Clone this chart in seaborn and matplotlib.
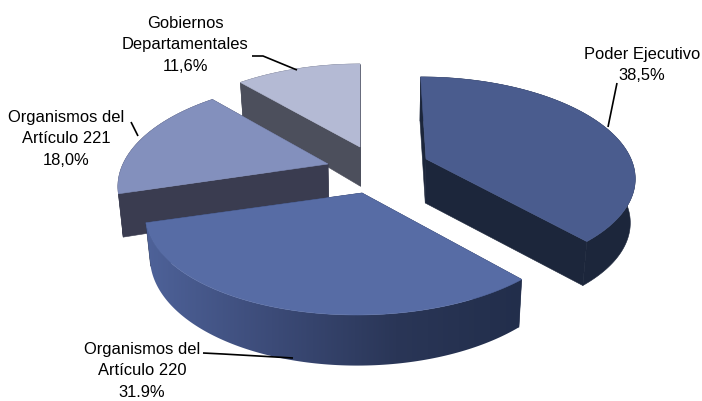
import numpy as np
import matplotlib
matplotlib.use("Agg")
import matplotlib.pyplot as plt
from matplotlib.patches import Polygon
import seaborn as sns

# --- data ---
labels = ["Poder Ejecutivo\n38,5%", "Organismos del\nArtículo 220\n31.9%",
          "Organismos del\nArtículo 221\n18,0%", "Gobiernos\nDepartamentales\n11,6%"]
values = [38.5, 31.9, 18.0, 11.6]

# --- styling / layout ---
top_colors = ["#4A5C8E", "#576CA5", "#8390BD", "#B4BAD4"]
side_colors = ["#1C263B", None, "#3A3C50", "#4C4F5C"]
gradient = ["#4E6299", "#3C4B78", "#2A3657", "#222E4B"]
apex = [(426, 160), (362, 194), (328, 165), (360, 148)]     # exploded slice tips
vanish_x = [389.0, 385.0, 360.0, 360.0]
radius_x = [205.0, 212.0, 205.0, 205.0]
radius_y = [96.0, 98.8, 98.8, 98.8]
persp = [0.17, 0.19, 0.19, 0.19]
depth = [44.0, 41.0, 41.0, 39.0]
depth_pow = [0.0, 1.0, 1.0, 1.0]
label_pos = [(642, 65), (142, 371), (66, 139), (185, 45)]
leaders = [[(617, 84), (608, 128)],
           [(203, 354), (223, 355), (293, 359)],
           [(131, 123), (138, 137)],
           [(252, 57), (263, 57), (297, 71)]]
draw_order = [3, 0, 2, 1]

sns.set_theme(style="white")
plt.rcParams["font.family"] = ["Liberation Sans", "DejaVu Sans"]

fig = plt.figure(figsize=(7.02, 4.02), dpi=100)
ax = fig.add_axes([0, 0, 1, 1])
ax.axis("off")


def project(i, theta, radius=1.0, lower=False):
    """Perspective projection of a point on a tilted, exploded pie slice."""
    ax0, ay0 = apex[i]
    vx, rx = vanish_x[i], radius_x[i]
    u, v = radius * np.sin(theta), radius * np.cos(theta)
    s = 1.0 / (1.0 + persp[i] * v)
    x = vx + (ax0 - vx + rx * u) * s
    y = ay0 - radius_y[i] * v * s
    if lower:
        x = vx + (x - vx) * 0.98
        y = y + depth[i] * s ** depth_pow[i]
    return np.column_stack([x, y])


fractions = np.array(values) / np.sum(values)
edges = np.concatenate([[0.0], np.cumsum(fractions)]) * 2 * np.pi

for order, i in enumerate(draw_order):
    a0, a1 = edges[i], edges[i + 1]
    th = np.linspace(a0, a1, 121)
    top_arc = project(i, th)
    low_arc = project(i, th, lower=True)
    tip_top = project(i, np.array([0.0]), 0.0)
    tip_low = project(i, np.array([0.0]), 0.0, lower=True)

    wall = side_colors[i] if side_colors[i] else gradient[-1]
    z = 1 + order
    for k in (0, -1):
        quad = np.vstack([tip_top, top_arc[k], low_arc[k], tip_low])
        ax.add_patch(Polygon(quad, closed=True, fc=wall, ec=wall, lw=0.4, zorder=z))

    rim = np.vstack([top_arc, low_arc[::-1]])
    if side_colors[i]:
        ax.add_patch(Polygon(rim, closed=True, fc=wall, ec=wall, lw=0.4, zorder=z))
    else:
        pal = np.array(sns.blend_palette(gradient, n_colors=256))[:, :3]
        clip = Polygon(rim, closed=True, fc="none", ec="none", transform=ax.transData)
        ax.add_patch(clip)
        im = ax.imshow(pal[np.newaxis, :, :], aspect="auto", zorder=z, interpolation="bilinear",
                       extent=[rim[:, 0].min(), rim[:, 0].max(), rim[:, 1].max(), rim[:, 1].min()])
        im.set_clip_path(clip)

    ax.add_patch(Polygon(np.vstack([tip_top, top_arc]), closed=True, fc=top_colors[i],
                         ec=top_colors[i], lw=0.4, zorder=z + 0.5))

for (lx, ly), txt, pts in zip(label_pos, labels, leaders):
    ax.text(lx, ly, txt, ha="center", va="center", fontsize=11.9, color="black",
            linespacing=1.58, zorder=20)
    p = np.array(pts)
    ax.plot(p[:, 0], p[:, 1], color="black", lw=1.2, zorder=19, solid_capstyle="butt")

ax.set_xlim(0, 702)
ax.set_ylim(402, 0)

fig.savefig("out.png", dpi=100, facecolor="white")
